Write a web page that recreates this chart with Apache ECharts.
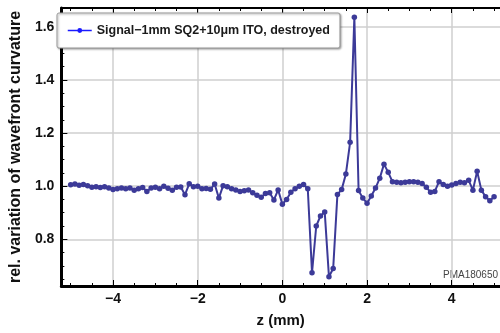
<!DOCTYPE html>
<html><head><meta charset="utf-8">
<script src="https://cdn.jsdelivr.net/npm/echarts@6/dist/echarts.min.js"></script>
<style>html,body{margin:0;padding:0;background:#fff}#c{width:500px;height:333px}</style>
</head><body><div id="c"></div>
<script>
const zValues = [-5.0,-4.9,-4.8,-4.7,-4.6,-4.5,-4.4,-4.3,-4.2,-4.1,-4.0,-3.9,-3.8,-3.7,-3.6,-3.5,-3.4,-3.3,-3.2,-3.1,-3.0,-2.9,-2.8,-2.7,-2.6,-2.5,-2.4,-2.3,-2.2,-2.1,-2.0,-1.9,-1.8,-1.7,-1.6,-1.5,-1.4,-1.3,-1.2,-1.1,-1.0,-0.9,-0.8,-0.7,-0.6,-0.5,-0.4,-0.3,-0.2,-0.1,0.0,0.1,0.2,0.3,0.4,0.5,0.6,0.7,0.8,0.9,1.0,1.1,1.2,1.3,1.4,1.5,1.6,1.7,1.8,1.9,2.0,2.1,2.2,2.3,2.4,2.5,2.6,2.7,2.8,2.9,3.0,3.1,3.2,3.3,3.4,3.5,3.6,3.7,3.8,3.9,4.0,4.1,4.2,4.3,4.4,4.5,4.6,4.7,4.8,4.9,5.0];
const curvature = [1.005,1.008,1.003,1.006,1.002,0.996,0.998,0.995,0.998,0.993,0.987,0.990,0.993,0.990,0.993,0.985,0.990,0.995,0.980,0.993,0.996,0.990,1.000,0.992,0.985,0.996,0.997,0.968,1.009,0.998,1.000,0.990,0.991,0.988,1.008,0.955,1.002,0.998,0.990,0.986,0.980,0.983,0.986,0.975,0.966,0.958,0.972,0.975,0.948,0.986,0.932,0.950,0.977,0.990,1.000,1.006,0.990,0.674,0.850,0.888,0.903,0.659,0.690,0.969,0.987,1.046,1.165,1.636,0.984,0.955,0.936,0.963,0.993,1.030,1.083,1.052,1.017,1.015,1.013,1.015,1.017,1.017,1.015,1.010,0.996,0.977,0.980,1.017,1.006,1.000,1.004,1.010,1.015,1.013,1.022,0.985,1.056,0.985,0.960,0.945,0.960];
const xMajorTicks = [-4,-2,0,2,4];
const xMinorTicks = [-5,-4.5,-3.5,-3,-2.5,-1.5,-1,-0.5,0.5,1,1.5,2.5,3,3.5,4.5,5];
const yMajorTicks = [0.8,1.0,1.2,1.4,1.6];
const yMinorTicks = [0.65,0.7,0.75,0.85,0.9,0.95,1.05,1.1,1.15,1.25,1.3,1.35,1.45,1.5,1.55,1.65];
const seriesName = 'Signal\u22121mm SQ2+10\u03bcm ITO, destroyed';

const X_MIN=-5.22, X_MAX=5.14, Y_MIN=0.624, Y_MAX=1.671;
const font = 'Liberation Sans, Arial, sans-serif';
const minus = v => String(v).replace('-', '\u2212');

function xAx(extra){ return Object.assign({type:'value',min:X_MIN,max:X_MAX,gridIndex:0,
  splitLine:{show:false},axisLabel:{show:false},axisTick:{show:false},axisLine:{show:false,onZero:false}},extra); }
function yAx(extra){ return Object.assign({type:'value',min:Y_MIN,max:Y_MAX,gridIndex:0,
  splitLine:{show:false},axisLabel:{show:false},axisTick:{show:false},axisLine:{show:false,onZero:false}},extra); }

const chart = echarts.init(document.getElementById('c'), null, {renderer:'canvas'});
chart.setOption({
  animation:false,
  backgroundColor:'#ffffff',
  grid:{left:52,right:0,top:8,bottom:45,containLabel:false},
  legend:{show:true,left:57,top:13,padding:[11,10,11,10],
    backgroundColor:'#ffffff',borderColor:'#9a9a9a',borderWidth:1,borderRadius:2,
    shadowColor:'rgba(0,0,0,0.35)',shadowBlur:2,shadowOffsetX:1,shadowOffsetY:1,
    itemWidth:24,itemHeight:6,
    textStyle:{fontFamily:font,fontWeight:'bold',fontSize:12.5,color:'#1a1a1a',padding:[3,0,3,0]},
    data:[{name:seriesName,itemStyle:{color:'#1a1aff'},lineStyle:{color:'#1a1aff',width:1.5}}]},
  xAxis:[
    xAx({position:'bottom',name:'z (mm)',nameLocation:'middle',nameGap:27,
      nameTextStyle:{fontFamily:font,fontWeight:'bold',fontSize:15,color:'#111'},
      axisLine:{show:true,onZero:false,lineStyle:{color:'#000',width:3}},
      axisTick:{show:true,inside:true,length:6,customValues:xMajorTicks,lineStyle:{color:'#000',width:1}},
      axisLabel:{show:true,customValues:xMajorTicks,margin:6,formatter:minus,
        fontFamily:font,fontWeight:'bold',fontSize:14,color:'#111'},
      splitLine:{show:true,lineStyle:{color:'#cfcfcf',width:1.5}}}),
    xAx({position:'bottom',axisTick:{show:true,inside:true,length:3,customValues:xMinorTicks,lineStyle:{color:'#000',width:1}}}),
    xAx({position:'top',axisLine:{show:true,onZero:false,lineStyle:{color:'#000',width:2}},
      axisTick:{show:true,inside:true,length:5,customValues:xMajorTicks,lineStyle:{color:'#000',width:1}}}),
    xAx({position:'top',axisTick:{show:true,inside:true,length:3,customValues:xMinorTicks,lineStyle:{color:'#000',width:1}}})
  ],
  yAxis:[
    yAx({position:'left',name:'rel. variation of wavefront curvature',nameLocation:'middle',nameGap:36,
      nameTextStyle:{fontFamily:font,fontWeight:'bold',fontSize:16,color:'#111'},
      axisLine:{show:true,onZero:false,lineStyle:{color:'#000',width:3}},
      axisTick:{show:true,inside:true,length:6,customValues:yMajorTicks,lineStyle:{color:'#000',width:1}},
      axisLabel:{show:true,customValues:yMajorTicks,margin:7,formatter:v=>v.toFixed(1),
        fontFamily:font,fontWeight:'bold',fontSize:14,color:'#111'},
      splitLine:{show:true,lineStyle:{color:'#cfcfcf',width:1.5}}}),
    yAx({position:'left',axisTick:{show:true,inside:true,length:3,customValues:yMinorTicks,lineStyle:{color:'#000',width:1}}})
  ],
  graphic:[{type:'text',left:443,top:270,style:{text:'PMA180650',fontFamily:font,fontSize:10,fill:'#444'}}],
  series:[{
    name:seriesName,type:'line',xAxisIndex:0,yAxisIndex:0,
    data:zValues.map((z,i)=>[z,curvature[i]]),
    symbol:'circle',symbolSize:5.5,showSymbol:true,
    lineStyle:{color:'#3c3a98',width:2},
    itemStyle:{color:'#3c3a98'},
    clip:true
  }]
});
</script></body></html>
